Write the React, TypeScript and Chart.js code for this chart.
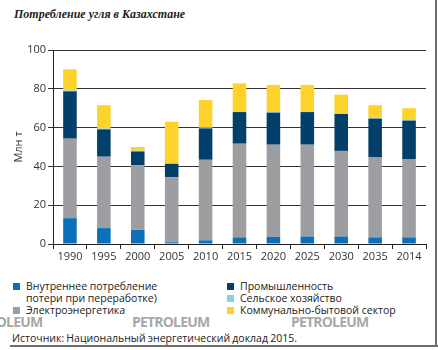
import React, { useEffect, useRef } from "react";
import { Chart, registerables } from "chart.js";

Chart.register(...registerables);

const categories = ["1990", "1995", "2000", "2005", "2010", "2015", "2020", "2025", "2030", "2035", "2014"];
const internalUse = [13.3, 8.2, 7.3, 0.9, 1.9, 3.4, 3.6, 3.8, 3.8, 3.4, 3.4];
const power = [41, 36.8, 33.2, 33.5, 41.5, 48.3, 47.6, 47.4, 44.2, 41.4, 40.4];
const industry = [24.4, 14.1, 7.2, 6.9, 16.2, 16.3, 16.5, 16.8, 19, 19.8, 19.8];
const agriculture = [0.4, 0.4, 0.4, 0.4, 0.4, 0.4, 0.4, 0.4, 0.4, 0.4, 0.4];
const residential = [10.9, 12, 1.9, 21.3, 14.2, 14.4, 13.9, 13.6, 9.6, 6.5, 6];
const yTicks = [0, 20, 40, 60, 80, 100];

const COLORS = {
  internal: "#0A70BA",
  power: "#9C9EA1",
  industry: "#023F6B",
  agri: "#86D1E2",
  res: "#FDD22B",
};

const FONT = "'Open Sans', 'Noto Sans', sans-serif";

export default function App() {
  const ref = useRef<HTMLCanvasElement | null>(null);

  useEffect(() => {
    if (!ref.current) return;
    const chart = new Chart(ref.current, {
      type: "bar",
      data: {
        labels: categories,
        datasets: [
          { label: "Внутреннее потребление", data: internalUse, backgroundColor: COLORS.internal },
          { label: "Электроэнергетика", data: power, backgroundColor: COLORS.power },
          { label: "Промышленность", data: industry, backgroundColor: COLORS.industry },
          { label: "Сельское хозяйство", data: agriculture, backgroundColor: COLORS.agri },
          { label: "Коммунально-бытовой сектор", data: residential, backgroundColor: COLORS.res },
        ],
      },
      options: {
        animation: false,
        responsive: false,
        maintainAspectRatio: false,
        layout: { padding: { left: 0, right: 12, top: 10, bottom: 0 } },
        plugins: { legend: { display: false }, tooltip: { enabled: false } },
        datasets: { bar: { barPercentage: 0.4, categoryPercentage: 1 } },
        scales: {
          x: {
            stacked: true,
            offset: true,
            grid: {
              offset: true,
              drawOnChartArea: false,
              drawTicks: true,
              tickLength: 5,
              color: "#222",
            },
            border: { display: true, color: "#222", width: 1 },
            ticks: { color: "#333", font: { family: FONT, size: 11 }, padding: 1, maxRotation: 0 },
            afterFit: (s: any) => {
              s.height = 26;
            },
          },
          y: {
            stacked: true,
            min: 0,
            max: 100,
            afterBuildTicks: (s: any) => {
              s.ticks = yTicks.map((v) => ({ value: v }));
            },
            grid: { color: "#333", lineWidth: 1, tickLength: 5, drawTicks: true },
            border: { display: true, color: "#222", width: 1 },
            ticks: { color: "#333", font: { family: FONT, size: 11 }, padding: 2 },
            title: {
              display: true,
              text: "Млн т",
              color: "#333",
              font: { family: FONT, size: 11 },
              padding: { top: 12, bottom: 0 },
            },
            afterFit: (s: any) => {
              s.width = 53;
            },
          },
        },
      },
    });
    return () => chart.destroy();
  }, []);

  const sq = (c: string) => (
    <span
      style={{
        position: "absolute",
        left: -13,
        top: 3,
        width: 7,
        height: 7,
        background: c,
      }}
    />
  );

  const textStyle: React.CSSProperties = {
    position: "absolute",
    fontFamily: FONT,
    fontSize: 10.5,
    lineHeight: "12px",
    color: "#222",
    whiteSpace: "nowrap",
  };

  const wm: React.CSSProperties = {
    position: "absolute",
    top: 312,
    fontFamily: FONT,
    fontWeight: 700,
    fontSize: 14,
    letterSpacing: "-0.8px",
    color: "#A8A8A8",
    whiteSpace: "nowrap",
  };

  return (
    <div
      style={{
        position: "absolute",
        left: 0,
        top: 0,
        width: 438,
        height: 350,
        overflow: "hidden",
        background: "#fff",
      }}
    >
      <div
        style={{
          position: "absolute",
          left: 14,
          top: 7,
          fontFamily: "'Liberation Serif', serif",
          fontWeight: 700,
          fontStyle: "italic",
          fontSize: 12,
          color: "#222",
          whiteSpace: "nowrap",
        }}
      >
        Потребление угля в Казахстане
      </div>
      <canvas
        ref={ref}
        width={438}
        height={230}
        style={{ position: "absolute", left: 0, top: 40, width: 438, height: 230 }}
      />
      <div style={{ ...textStyle, left: 26, top: 280 }}>
        {sq(COLORS.internal)}
        Внутреннее потребление
      </div>
      <div style={{ ...textStyle, left: 26, top: 292 }}>потери при переработке)</div>
      <div style={{ ...textStyle, left: 26, top: 304 }}>
        {sq(COLORS.power)}
        Электроэнергетика
      </div>
      <div style={{ ...textStyle, left: 240, top: 280 }}>
        {sq(COLORS.industry)}
        Промышленность
      </div>
      <div style={{ ...textStyle, left: 240, top: 292 }}>
        {sq(COLORS.agri)}
        Сельское хозяйство
      </div>
      <div style={{ ...textStyle, left: 240, top: 304 }}>
        {sq(COLORS.res)}
        Коммунально-бытовой сектор
      </div>
      <div style={{ ...wm, left: -35 }}>PETROLEUM</div>
      <div style={{ ...wm, left: 132 }}>PETROLEUM</div>
      <div style={{ ...wm, left: 291 }}>PETROLEUM</div>
      <div style={{ ...textStyle, left: 12, top: 332, wordSpacing: "-0.5px" }}>
        Источник: Национальный энергетический доклад 2015.
      </div>
      <div
        style={{
          position: "absolute",
          left: 10,
          top: 345,
          width: 428,
          height: 2,
          background: "#6E6E6E",
        }}
      />
      <div
        style={{
          position: "absolute",
          left: 435,
          top: 0,
          width: 2,
          height: 347,
          background: "#6E6E6E",
        }}
      />
    </div>
  );
}
